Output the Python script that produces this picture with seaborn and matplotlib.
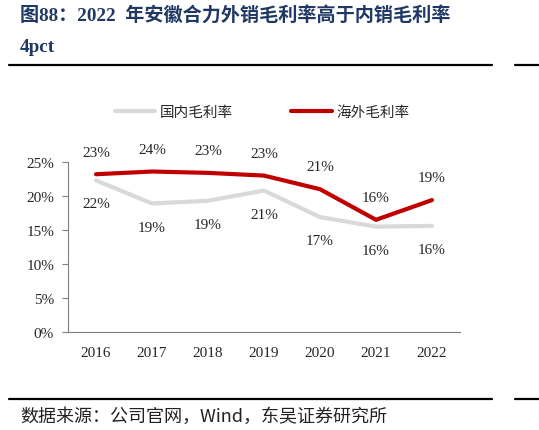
"""Domestic vs. overseas gross margin line chart."""

import matplotlib

matplotlib.use("Agg")
import matplotlib.pyplot as plt
import pandas as pd
import seaborn as sns
from matplotlib.lines import Line2D
from matplotlib.ticker import FixedLocator, PercentFormatter

years = ["2016", "2017", "2018", "2019", "2020", "2021", "2022"]
domestic = [22.3, 18.9, 19.3, 20.8, 16.9, 15.5, 15.6]
overseas = [23.2, 23.6, 23.4, 23.0, 21.0, 16.5, 19.4]
domestic_labels = ["22%", "19%", "19%", "21%", "17%", "16%", "16%"]
overseas_labels = ["23%", "24%", "23%", "23%", "21%", "16%", "19%"]
series_names = ["国内毛利率", "海外毛利率"]

title_1 = "图88：2022  年安徽合力外销毛利率高于内销毛利率"
title_2 = "4pct"
source = "数据来源：公司官网，Wind，东吴证券研究所"

GREY = "#d9d9d9"
RED = "#c00000"
NAVY = "#1f3864"
SERIF = ["Liberation Serif", "Noto Sans CJK SC"]
CJK = ["Noto Sans CJK SC", "DejaVu Sans"]

sns.set_theme(style="white")
plt.rcParams["font.family"] = SERIF

df = pd.DataFrame({
    "pos": list(range(len(years))) * 2,
    "value": domestic + overseas,
    "series": [series_names[0]] * len(years) + [series_names[1]] * len(years),
})

fig = plt.figure(figsize=(5.39, 4.31), dpi=100)
ax = fig.add_axes([68 / 539, 1 - 333 / 431, 392 / 539, 170 / 431])

sns.lineplot(
    data=df, x="pos", y="value", hue="series",
    palette={series_names[0]: GREY, series_names[1]: RED},
    hue_order=series_names, linewidth=3, legend=False, ax=ax,
)

for i, (v, lab) in enumerate(zip(overseas, overseas_labels)):
    ax.annotate(lab, (i, v), xytext=(0, 16), textcoords="offset points",
                ha="center", va="center", fontsize=11, family=SERIF)
for i, (v, lab) in enumerate(zip(domestic, domestic_labels)):
    ax.annotate(lab, (i, v), xytext=(0, -17), textcoords="offset points",
                ha="center", va="center", fontsize=11, family=SERIF)

ax.set_xlim(-0.5, len(years) - 0.5)
ax.set_ylim(0, 25)
ax.set_xticks(range(len(years)))
ax.set_xticklabels(years)
ax.xaxis.set_minor_locator(FixedLocator([i + 0.5 for i in range(-1, len(years))]))
ax.yaxis.set_major_formatter(PercentFormatter(decimals=0))
ax.set_yticks(range(0, 26, 5))
ax.set_xlabel("")
ax.set_ylabel("")
ax.tick_params(axis="x", which="major", length=0, pad=10, labelsize=11)
ax.tick_params(axis="x", which="minor", direction="in", length=4, color="#7f7f7f", width=0.8)
ax.tick_params(axis="y", direction="out", length=4, color="#7f7f7f", width=0.8, pad=6, labelsize=11)
ax.tick_params(left=True)
for side in ["top", "right"]:
    ax.spines[side].set_visible(False)
for side in ["left", "bottom"]:
    ax.spines[side].set_color("#7f7f7f")
    ax.spines[side].set_linewidth(0.8)

handles = [Line2D([], [], color=GREY, linewidth=3), Line2D([], [], color=RED, linewidth=3)]
fig.legend(handles, series_names, loc="center", bbox_to_anchor=(262 / 539, 1 - 113 / 431),
           ncol=2, frameon=False, prop={"family": CJK, "size": 10.5},
           handlelength=2.8, handletextpad=0.3, columnspacing=4)

fig.text(20 / 539, 1 - 15 / 431, title_1, fontsize=13.8, fontweight="bold", color=NAVY,
         ha="left", va="center", family=SERIF)
fig.text(20 / 539, 1 - 48 / 431, title_2, fontsize=13.8, fontweight="bold", color=NAVY,
         ha="left", va="center", family=SERIF)
fig.text(20 / 539, 1 - 417 / 431, source, fontsize=13, color="#222222",
         ha="left", va="center", family=CJK)

for y in (66, 400):
    yy = 1 - y / 431
    fig.add_artist(Line2D([9 / 539, 492 / 539], [yy, yy], color="black", linewidth=1.6))
    fig.add_artist(Line2D([515 / 539, 1], [yy, yy], color="black", linewidth=1.6))

fig.savefig("out.png", dpi=100)
